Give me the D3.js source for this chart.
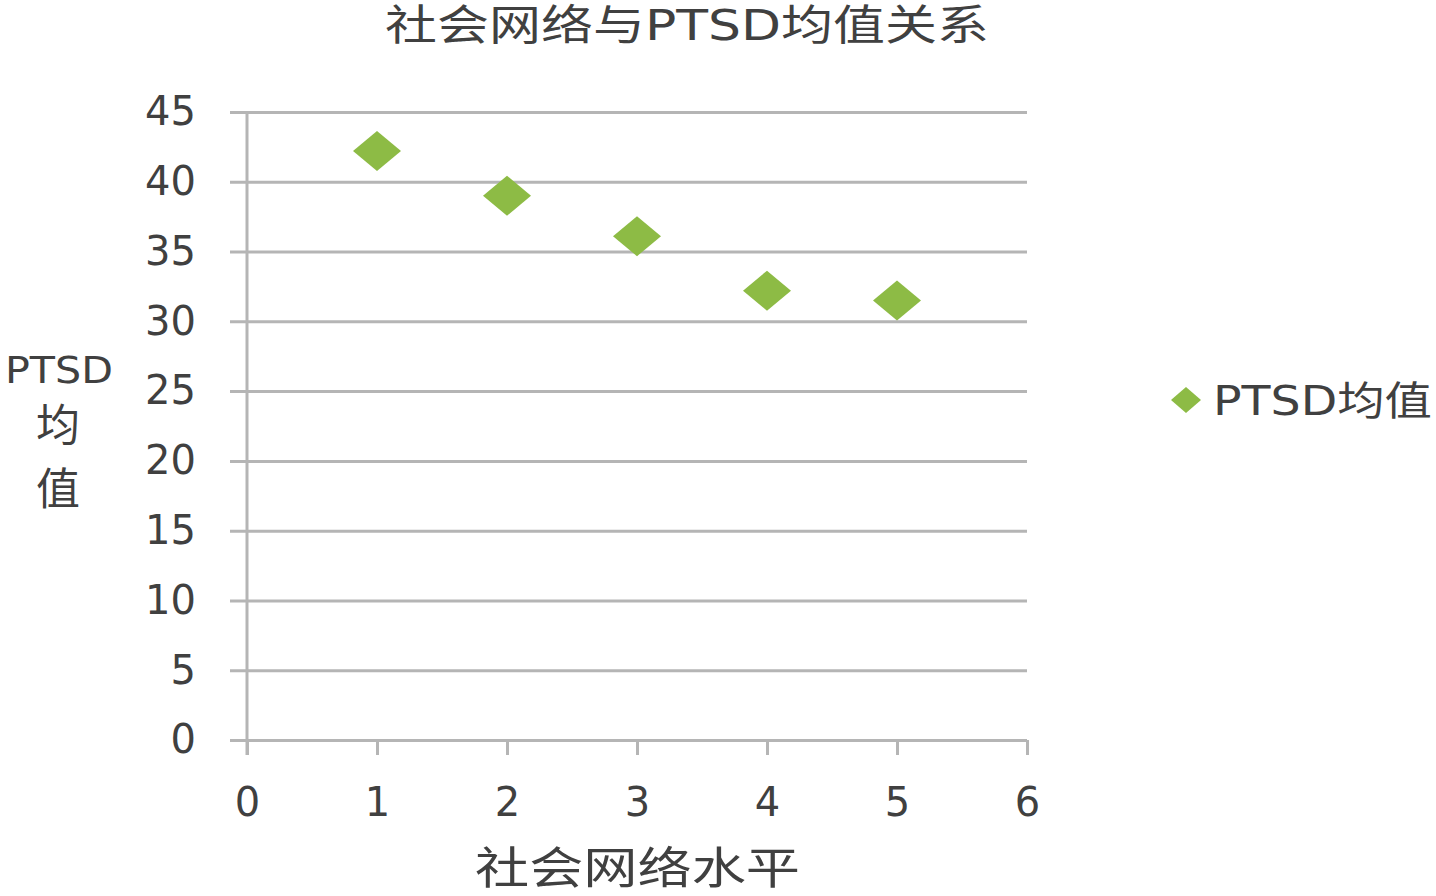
<!DOCTYPE html>
<html>
<head>
<meta charset="utf-8">
<script src="https://cdn.jsdelivr.net/npm/d3@7"></script>
<style>
  body { margin: 0; background: #fff; }
  text { fill: #404040; }
</style>
</head>
<body>
<div id="chart"></div>
<script>
// data
var levels = [1, 2, 3, 4, 5];
var ptsdMeans = [42.2, 39.0, 36.1, 32.2, 31.5];
var xTicks = [0, 1, 2, 3, 4, 5, 6];
var yTicks = [0, 5, 10, 15, 20, 25, 30, 35, 40, 45];
var seriesName = "PTSD均值";

var svgWidth = 1436;
var svgHeight = 896;

var plot = { left: 247, right: 1027, top: 112, bottom: 740 };
var gridStart = 230;
var green = "#8dbb45";
var gridColor = "#b5b5b5";
var cjk = "'DejaVu Sans', 'Noto Sans CJK SC', sans-serif";

var svg = d3.select("#chart")
    .append("svg")
    .attr("width", svgWidth)
    .attr("height", svgHeight);

var xScale = d3.scaleLinear().domain([0, 6]).range([plot.left, plot.right]);
var yScale = d3.scaleLinear().domain([0, 45]).range([plot.bottom, plot.top]);

// horizontal gridlines + y tick labels
var yAxis = svg.append("g")
    .attr("transform", `translate(${plot.right},0)`)
    .call(d3.axisLeft(yScale)
      .tickValues(yTicks)
      .tickFormat(d3.format("d"))
      .tickSize(plot.right - gridStart)
      .tickPadding(34));
yAxis.select(".domain").remove();
yAxis.selectAll(".tick line")
    .attr("stroke", gridColor)
    .attr("stroke-width", 3);
yAxis.selectAll(".tick text")
    .style("font-family", "'DejaVu Sans', sans-serif")
    .style("font-size", "40px")
    .attr("fill", "#404040");

// vertical axis line
svg.append("line")
    .attr("x1", plot.left).attr("x2", plot.left)
    .attr("y1", plot.top).attr("y2", plot.bottom + 15)
    .attr("stroke", gridColor)
    .attr("stroke-width", 3);

// x axis ticks
var xAxis = svg.append("g")
    .attr("transform", `translate(0,${plot.bottom})`)
    .call(d3.axisBottom(xScale)
      .tickValues(xTicks)
      .tickFormat(d3.format("d"))
      .tickSize(15)
      .tickPadding(33));
xAxis.select(".domain").remove();
xAxis.selectAll(".tick line")
    .attr("stroke", gridColor)
    .attr("stroke-width", 3);
xAxis.selectAll(".tick text")
    .style("font-family", "'DejaVu Sans', sans-serif")
    .style("font-size", "40px")
    .attr("fill", "#404040");

// diamonds
function diamond(w, h) {
  return `M0,${-h} L${w},0 L0,${h} L${-w},0 Z`;
}

svg.selectAll("path.pt")
    .data(levels.map((d, i) => ({ x: d, y: ptsdMeans[i] })))
    .enter()
    .append("path")
    .attr("class", "pt")
    .attr("d", diamond(24, 20))
    .attr("transform", d => `translate(${xScale(d.x)},${yScale(d.y)})`)
    .attr("fill", green);

// title
svg.append("text")
    .attr("x", 385)
    .attr("y", 40)
    .attr("textLength", 604)
    .attr("lengthAdjust", "spacingAndGlyphs")
    .style("font-family", cjk)
    .style("font-size", "42px")
    .text("社会网络与PTSD均值关系");

// x axis title
svg.append("text")
    .attr("x", 475)
    .attr("y", 884)
    .attr("textLength", 325)
    .attr("lengthAdjust", "spacingAndGlyphs")
    .style("font-family", cjk)
    .style("font-size", "44px")
    .text("社会网络水平");

// y axis title, stacked
var yTitle = ["PTSD", "均", "值"];
var yTitleBase = [383, 441, 505];
svg.selectAll("text.ytitle")
    .data(yTitle)
    .enter()
    .append("text")
    .attr("class", "ytitle")
    .attr("x", (d, i) => i == 0 ? 5 : 58)
    .attr("y", (d, i) => yTitleBase[i])
    .attr("text-anchor", (d, i) => i == 0 ? "start" : "middle")
    .attr("textLength", (d, i) => i == 0 ? 108 : null)
    .attr("lengthAdjust", "spacingAndGlyphs")
    .style("font-family", cjk)
    .style("font-size", (d, i) => i == 0 ? "38px" : "44px")
    .text(d => d);

// legend
var legend = svg.append("g").attr("transform", "translate(1186,400)");
legend.append("path")
    .attr("d", diamond(15, 13))
    .attr("fill", green);
legend.append("text")
    .attr("x", 27)
    .attr("y", 15)
    .attr("textLength", 219)
    .attr("lengthAdjust", "spacingAndGlyphs")
    .style("font-family", cjk)
    .style("font-size", "40px")
    .text(seriesName);
</script>
</body>
</html>
